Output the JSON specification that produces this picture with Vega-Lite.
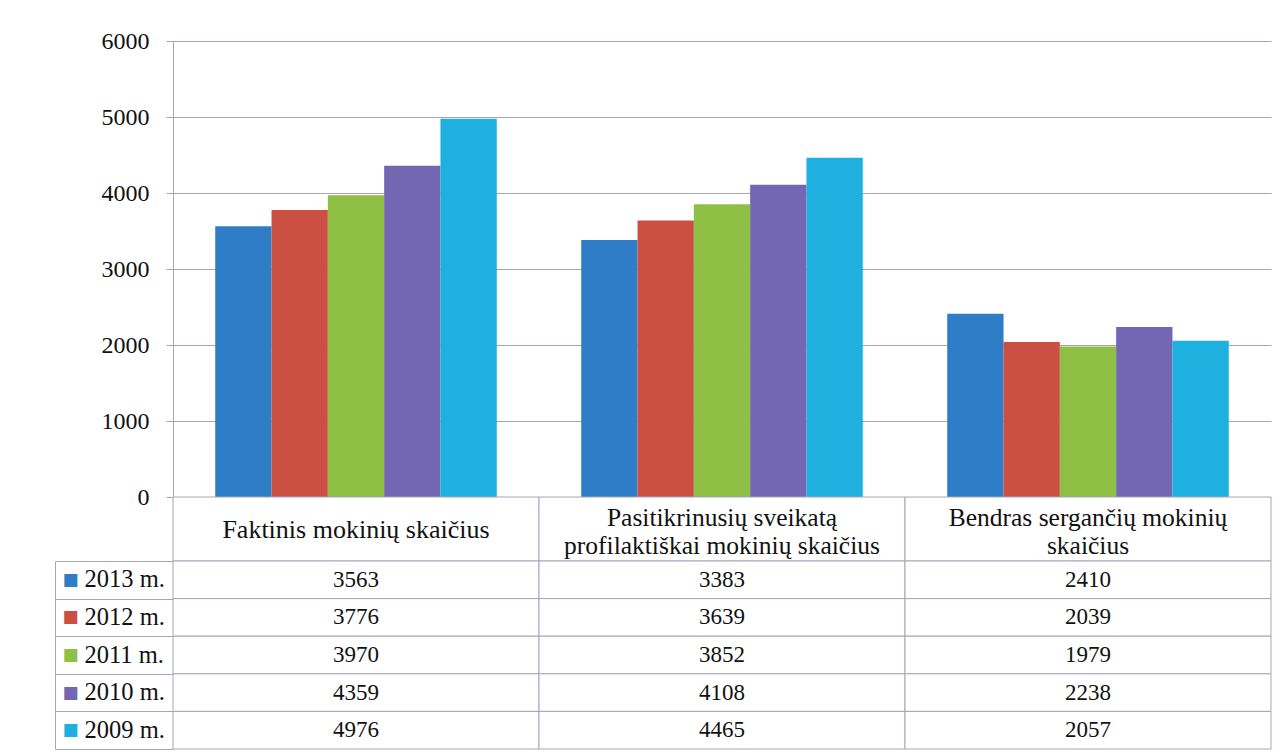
{
  "$schema": "https://vega.github.io/schema/vega-lite/v6.json",
  "padding": {"left": 54, "top": 29, "right": 5, "bottom": 3},
  "background": "white",
  "spacing": 0,
  "bounds": "flush",
  "config": {"view": {"stroke": null}, "font": "'Liberation Serif', 'Times New Roman', 'DejaVu Serif', serif"},
  "datasets": {
    "duomenys": [
      {"kat": "Faktinis", "metai": "2013 m.", "reiksme": 3563},
      {"kat": "Faktinis", "metai": "2012 m.", "reiksme": 3776},
      {"kat": "Faktinis", "metai": "2011 m.", "reiksme": 3970},
      {"kat": "Faktinis", "metai": "2010 m.", "reiksme": 4359},
      {"kat": "Faktinis", "metai": "2009 m.", "reiksme": 4976},
      {"kat": "Pasitikrinusiu", "metai": "2013 m.", "reiksme": 3383},
      {"kat": "Pasitikrinusiu", "metai": "2012 m.", "reiksme": 3639},
      {"kat": "Pasitikrinusiu", "metai": "2011 m.", "reiksme": 3852},
      {"kat": "Pasitikrinusiu", "metai": "2010 m.", "reiksme": 4108},
      {"kat": "Pasitikrinusiu", "metai": "2009 m.", "reiksme": 4465},
      {"kat": "Bendras", "metai": "2013 m.", "reiksme": 2410},
      {"kat": "Bendras", "metai": "2012 m.", "reiksme": 2039},
      {"kat": "Bendras", "metai": "2011 m.", "reiksme": 1979},
      {"kat": "Bendras", "metai": "2010 m.", "reiksme": 2238},
      {"kat": "Bendras", "metai": "2009 m.", "reiksme": 2057}
    ],
    "kategorijos": [
      {"kat": "Faktinis", "antraste": "Faktinis mokinių skaičius", "eilutes": 1},
      {"kat": "Pasitikrinusiu", "antraste": "Pasitikrinusių sveikatą\nprofilaktiškai mokinių skaičius", "eilutes": 2},
      {"kat": "Bendras", "antraste": "Bendras sergančių mokinių\nskaičius", "eilutes": 2}
    ]
  },
  "vconcat": [
    {
      "width": 1098,
      "height": 456,
      "data": {"name": "duomenys"},
      "mark": {"type": "bar"},
      "encoding": {
        "x": {
          "field": "kat", "type": "nominal",
          "sort": ["Faktinis", "Pasitikrinusiu", "Bendras"],
          "scale": {"paddingInner": 0, "paddingOuter": 0},
          "axis": {"labels": false, "ticks": false, "title": null, "domain": false}
        },
        "xOffset": {
          "field": "metai", "type": "nominal",
          "sort": ["2013 m.", "2012 m.", "2011 m.", "2010 m.", "2009 m."],
          "scale": {"paddingInner": 0, "paddingOuter": 0.75}
        },
        "y": {
          "field": "reiksme", "type": "quantitative",
          "scale": {"domain": [0, 6000], "nice": false},
          "axis": {
            "values": [0, 1000, 2000, 3000, 4000, 5000, 6000],
            "format": "d",
            "title": null,
            "grid": true,
            "gridColor": "#a4a4c0",
            "gridWidth": 1,
            "domainColor": "#a4a4c0",
            "tickColor": "#a4a4c0",
            "tickSize": 7,
            "labelPadding": 17,
            "labelFont": "'Liberation Serif', 'Times New Roman', 'DejaVu Serif', serif",
            "labelFontSize": 24,
            "labelColor": "#111111"
          }
        },
        "color": {
          "field": "metai", "type": "nominal",
          "scale": {
            "domain": ["2013 m.", "2012 m.", "2011 m.", "2010 m.", "2009 m."],
            "range": ["#2f7dc6", "#cc4f44", "#8fbf45", "#7366b2", "#1eb0de"]
          },
          "legend": null
        }
      }
    },
    {
      "width": 1098,
      "height": 64,
      "data": {"name": "kategorijos"},
      "layer": [
        {
          "mark": {"type": "rect", "fill": "white", "stroke": "#a4a4c0", "strokeWidth": 1},
          "encoding": {
            "x": {
              "field": "kat", "type": "nominal",
              "sort": ["Faktinis", "Pasitikrinusiu", "Bendras"],
              "scale": {"paddingInner": 0, "paddingOuter": 0},
              "axis": null
            }
          }
        },
        {
          "transform": [{"filter": "datum.eilutes == 1"}],
          "mark": {"type": "text", "font": "'Liberation Serif', 'Times New Roman', 'DejaVu Serif', serif", "fontSize": 26, "baseline": "middle", "dy": 1, "color": "#111111"},
          "encoding": {
            "x": {
              "field": "kat", "type": "nominal",
              "sort": ["Faktinis", "Pasitikrinusiu", "Bendras"],
              "axis": null
            },
            "text": {"field": "antraste"}
          }
        },
        {
          "transform": [{"filter": "datum.eilutes == 2"}],
          "mark": {"type": "text", "font": "'Liberation Serif', 'Times New Roman', 'DejaVu Serif', serif", "fontSize": 25.5, "lineBreak": "\n", "lineHeight": 28, "baseline": "middle", "dy": -11, "color": "#111111"},
          "encoding": {
            "x": {
              "field": "kat", "type": "nominal",
              "sort": ["Faktinis", "Pasitikrinusiu", "Bendras"],
              "axis": null
            },
            "text": {"field": "antraste"}
          }
        }
      ]
    },
    {
      "width": 1098,
      "height": 188,
      "data": {"name": "duomenys"},
      "resolve": {"axis": {"y": "independent"}},
      "layer": [
        {
          "mark": {"type": "rect", "fill": "white", "stroke": "#a4a4c0", "strokeWidth": 1},
          "encoding": {
            "x": {
              "field": "kat", "type": "nominal",
              "sort": ["Faktinis", "Pasitikrinusiu", "Bendras"],
              "scale": {"paddingInner": 0, "paddingOuter": 0},
              "axis": null
            },
            "y": {
              "field": "metai", "type": "nominal",
              "sort": ["2013 m.", "2012 m.", "2011 m.", "2010 m.", "2009 m."],
              "scale": {"paddingInner": 0, "paddingOuter": 0},
              "axis": {
                "orient": "left",
                "title": null,
                "domain": false,
                "ticks": true,
                "tickBand": "extent",
                "tickSize": 118,
                "tickColor": "#a4a4c0",
                "labelAlign": "left",
                "labelPadding": -29,
                "labelFont": "'Liberation Serif', 'Times New Roman', 'DejaVu Serif', serif",
                "labelFontSize": 24.5,
                "labelColor": "#111111"
              }
            }
          }
        },
        {
          "mark": {"type": "text", "font": "'Liberation Serif', 'Times New Roman', 'DejaVu Serif', serif", "fontSize": 23, "color": "#111111"},
          "encoding": {
            "x": {
              "field": "kat", "type": "nominal",
              "sort": ["Faktinis", "Pasitikrinusiu", "Bendras"],
              "axis": null
            },
            "y": {
              "field": "metai", "type": "nominal",
              "sort": ["2013 m.", "2012 m.", "2011 m.", "2010 m.", "2009 m."],
              "axis": {
                "orient": "left",
                "offset": 118,
                "title": null,
                "domain": true,
                "domainColor": "#a4a4c0",
                "ticks": false,
                "labelExpr": "'■'",
                "labelAlign": "left",
                "labelPadding": -7,
                "labelFont": "DejaVu Sans",
                "labelFontSize": 17,
                "labelColor": {"expr": "datum.value === '2013 m.' ? '#2f7dc6' : datum.value === '2012 m.' ? '#cc4f44' : datum.value === '2011 m.' ? '#8fbf45' : datum.value === '2010 m.' ? '#7366b2' : '#1eb0de'"}
              }
            },
            "text": {"field": "reiksme", "type": "quantitative", "format": "d"}
          }
        }
      ]
    }
  ]
}
